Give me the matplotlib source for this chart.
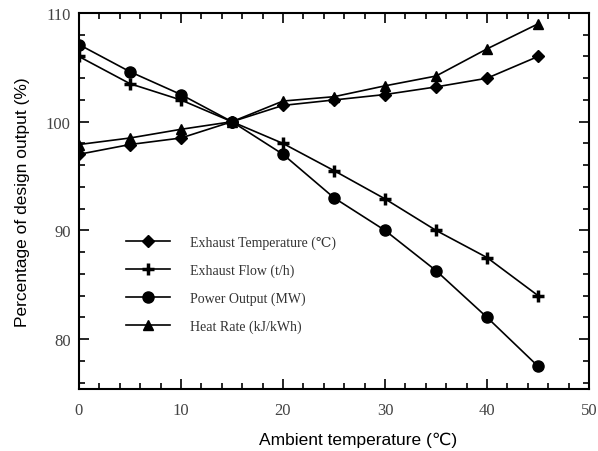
import numpy as np
import matplotlib
matplotlib.use("Agg")
import matplotlib.pyplot as plt
from matplotlib.ticker import MultipleLocator

temps = [0, 5, 10, 15, 20, 25, 30, 35, 40, 45]
exhaust_temp = [97.0, 97.9, 98.5, 100, 101.5, 102.0, 102.5, 103.2, 104.0, 106.0]
exhaust_flow = [106.0, 103.5, 102.0, 100, 98.0, 95.5, 92.9, 90.0, 87.5, 84.0]
power_output = [107.1, 104.6, 102.5, 100, 97.0, 93.0, 90.0, 86.3, 82.0, 77.5]
heat_rate = [97.9, 98.5, 99.3, 100, 101.9, 102.3, 103.3, 104.2, 106.7, 109.0]

labels = ["Exhaust Temperature (\u2103)", "Exhaust Flow (t/h)",
          "Power Output (MW)", "Heat Rate (kJ/kWh)"]
series = [exhaust_temp, exhaust_flow, power_output, heat_rate]
markers = ["D", "+", "o", "^"]
msizes = [6.5, 9, 8, 7]

serif = ["Liberation Serif", "DejaVu Serif"]
sans = ["Liberation Sans", "DejaVu Sans"]

fig = plt.figure(figsize=(5.98, 4.52), dpi=100)
ax = fig.add_axes([0.132, 0.137, 0.853, 0.832])

for y, lab, m, ms in zip(series, labels, markers, msizes):
    ax.plot(temps, y, color="black", lw=1.2, marker=m, markersize=ms,
            markeredgewidth=2.5 if m == "+" else 1, label=lab)

ax.set_xlim(0, 50)
ax.set_ylim(75.4, 110)
ax.xaxis.set_major_locator(MultipleLocator(10))
ax.xaxis.set_minor_locator(MultipleLocator(2))
ax.yaxis.set_major_locator(MultipleLocator(10))
ax.yaxis.set_minor_locator(MultipleLocator(2))
ax.tick_params(which="both", direction="in", top=True, right=True, width=1.2)
ax.tick_params(which="major", length=7, labelsize=12, labelcolor="#444444")
ax.tick_params(axis="x", which="major", pad=9)
ax.tick_params(axis="y", which="major", pad=6)
ax.tick_params(which="minor", length=4)
for lbl in ax.get_xticklabels() + ax.get_yticklabels():
    lbl.set_family(serif)
for s in ax.spines.values():
    s.set_linewidth(1.5)

ax.set_xlabel("Ambient temperature (\u2103)", fontsize=12.5, family=sans)
ax.xaxis.set_label_coords(0.547, -0.112)
ax.set_ylabel("Percentage of design output (%)", fontsize=12.5, family=sans, labelpad=11)

leg = ax.legend(loc="upper left", bbox_to_anchor=(0.067, 0.441), frameon=False,
                handlelength=3.2, handletextpad=1.4, labelspacing=1.05,
                prop={"family": serif, "size": 10})
for t in leg.get_texts():
    t.set_color("#333333")

fig.savefig("out.png", dpi=100)
